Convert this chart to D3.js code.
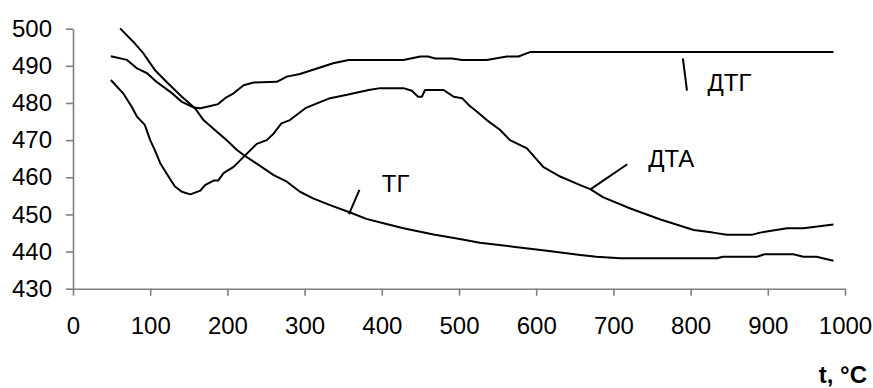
<!DOCTYPE html>
<html>
<head>
<meta charset="utf-8">
<script src="https://cdn.jsdelivr.net/npm/d3@7"></script>
<style>
  html, body { margin: 0; padding: 0; background: #fff; }
  svg { display: block; font-family: "Liberation Sans", Arial, sans-serif; }
</style>
</head>
<body>
<svg id="chart" width="873" height="388"></svg>
<script>
// ---- data ----
const xTicks = [0, 100, 200, 300, 400, 500, 600, 700, 800, 900, 1000];
const yTicks = [430, 440, 450, 460, 470, 480, 490, 500];

// ТГ
const tgT = [61, 78, 91, 106, 121, 141, 158, 169, 186, 199, 212, 221, 234, 260, 277, 294, 311, 333, 359, 380, 406, 428, 467, 501, 527, 570, 614, 657, 678, 709, 834, 842, 886, 896, 933, 946, 963, 985];
const tgV = [500.1, 496.5, 493.4, 488.9, 485.7, 481.7, 478.6, 475.4, 472.3, 470.0, 467.4, 466.0, 464.2, 460.6, 458.8, 456.1, 454.3, 452.5, 450.5, 448.8, 447.4, 446.3, 444.6, 443.4, 442.4, 441.3, 440.2, 439.1, 438.6, 438.2, 438.2, 438.6, 438.6, 439.3, 439.3, 438.6, 438.6, 437.5];

// ДТГ
const dtgT = [49, 70, 83, 96, 108, 126, 141, 156, 165, 178, 188, 197, 208, 221, 234, 264, 277, 294, 316, 337, 357, 428, 450, 460, 469, 491, 504, 536, 562, 577, 592, 985];
const dtgV = [492.6, 491.6, 489.3, 488.0, 485.7, 483.0, 480.3, 478.8, 478.6, 479.2, 479.7, 481.3, 482.6, 484.8, 485.5, 485.7, 487.1, 487.8, 489.3, 490.7, 491.6, 491.6, 492.5, 492.5, 492.0, 492.0, 491.6, 491.6, 492.5, 492.5, 493.7, 493.7];

// ДТА
const dtaT = [49, 65, 76, 83, 93, 100, 106, 113, 121, 132, 141, 152, 165, 171, 182, 188, 195, 208, 221, 238, 251, 260, 270, 281, 301, 316, 333, 355, 383, 398, 428, 439, 447, 452, 456, 480, 493, 504, 514, 523, 536, 553, 566, 588, 609, 631, 657, 670, 687, 722, 760, 804, 829, 847, 879, 890, 925, 946, 985];
const dtaV = [486.2, 482.6, 479.0, 476.3, 474.1, 470.0, 467.3, 463.8, 461.1, 457.5, 456.1, 455.4, 456.4, 457.9, 459.1, 459.1, 461.1, 462.8, 465.5, 469.0, 470.0, 471.8, 474.5, 475.4, 478.6, 479.9, 481.3, 482.2, 483.5, 484.0, 484.0, 483.3, 481.7, 481.7, 483.5, 483.5, 481.7, 481.3, 479.2, 477.7, 475.4, 472.8, 470.0, 467.8, 462.8, 460.2, 457.9, 456.8, 454.6, 451.6, 448.7, 445.8, 445.1, 444.5, 444.5, 445.1, 446.3, 446.3, 447.3];

// curve labels: text anchor point and leader line (data coordinates)
const labelNames = ["ТГ", "ДТА", "ДТГ"];
const labelAt = [[400, 456.1], [745, 462.8], [822, 483.1]];
const leaderFrom = [[371, 456.6], [718, 463.5], [790, 492.0]];
const leaderTo = [[357.5, 450.1], [670.6, 456.8], [795.3, 483.3]];

const xTitle = "t, °C";

// ---- layout ----
const svg = d3.select("#chart");
const mLeft = 73, mRight = 845, mTop = 28.7, mBottom = 288.7;

const x = d3.scaleLinear().domain([0, 1000]).range([mLeft, mRight]);
const y = d3.scaleLinear().domain([430, 500]).range([mBottom, mTop]);

const axisColor = "#808080";

// X axis
const gx = svg.append("g")
  .attr("transform", `translate(0,${mBottom})`)
  .call(d3.axisBottom(x).tickValues(xTicks).tickFormat(d3.format("d"))
        .tickSizeInner(7).tickSizeOuter(0).tickPadding(21));
// Y axis
const gy = svg.append("g")
  .attr("transform", `translate(${mLeft},0)`)
  .call(d3.axisLeft(y).tickValues(yTicks).tickFormat(d3.format("d"))
        .tickSizeInner(7).tickSizeOuter(0).tickPadding(14));

[gx, gy].forEach(g => {
  g.select(".domain").attr("stroke", axisColor).attr("stroke-width", 1.6);
  g.selectAll(".tick line").attr("stroke", axisColor).attr("stroke-width", 1.6);
  g.selectAll(".tick text").attr("fill", "#000").attr("font-size", 24)
    .attr("font-family", "'Liberation Sans', Arial, sans-serif");
});

// Lines
const line = d3.line().x(d => x(d[0])).y(d => y(d[1]));
const series = [
  d3.zip(tgT, tgV),
  d3.zip(dtgT, dtgV),
  d3.zip(dtaT, dtaV)
];
svg.append("g").selectAll("path").data(series).join("path")
  .attr("d", line)
  .attr("fill", "none")
  .attr("stroke", "#000")
  .attr("stroke-width", 2)
  .attr("stroke-linejoin", "round");

// Labels and leaders
labelNames.forEach((name, i) => {
  svg.append("line")
    .attr("x1", x(leaderFrom[i][0])).attr("y1", y(leaderFrom[i][1]))
    .attr("x2", x(leaderTo[i][0])).attr("y2", y(leaderTo[i][1]))
    .attr("stroke", "#000").attr("stroke-width", 2);
  svg.append("text")
    .attr("x", x(labelAt[i][0])).attr("y", y(labelAt[i][1]))
    .attr("font-size", 24).attr("fill", "#000")
    .text(name);
});

// Axis title
svg.append("text")
  .attr("x", 867).attr("y", 383)
  .attr("text-anchor", "end")
  .attr("font-size", 24).attr("font-weight", "bold")
  .attr("fill", "#000")
  .text(xTitle);
</script>
</body>
</html>
